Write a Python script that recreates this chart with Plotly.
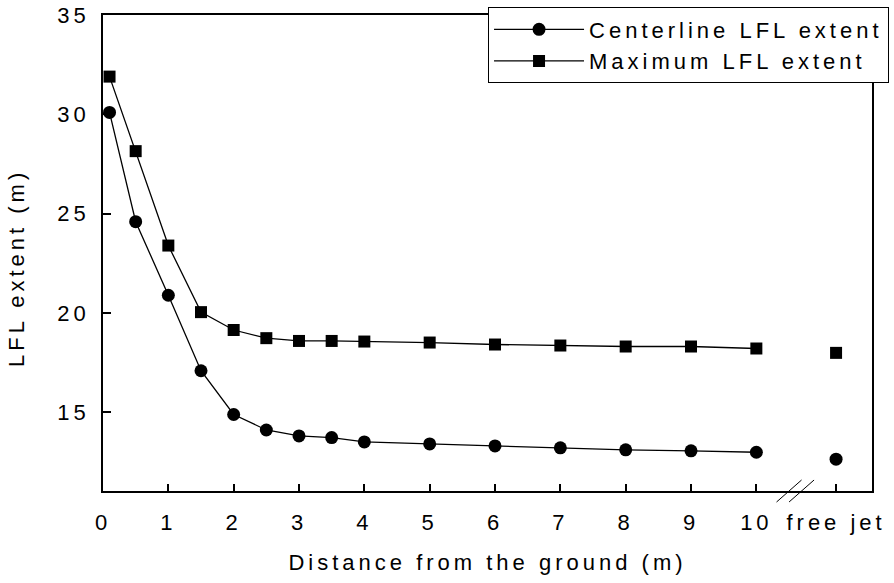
import plotly.graph_objects as go

# ---- data ----
heights = [0.1, 0.5, 1, 1.5, 2, 2.5, 3, 3.5, 4, 5, 6, 7, 8, 9, 10]
centerline = [30.1, 24.6, 20.9, 17.1, 14.9, 14.12, 13.82, 13.74, 13.52, 13.42, 13.32, 13.22, 13.12, 13.07, 13.0]
maximum = [31.9, 28.15, 23.4, 20.05, 19.15, 18.74, 18.6, 18.6, 18.57, 18.52, 18.42, 18.37, 18.32, 18.32, 18.22]
free_jet_centerline = 12.65
free_jet_maximum = 18.0
FREE_JET_X = 11.22
BREAK_X = 10.6
tick_vals = [0, 1, 2, 3, 4, 5, 6, 7, 8, 9, 10, FREE_JET_X]
tick_text = ["0", "1", "2", "3", "4", "5", "6", "7", "8", "9", "10", "free jet"]
y_ticks = [15, 20, 25, 30, 35]
x_title = "Distance from the ground (m)"
y_title = "LFL extent (m)"

FONT = "Liberation Sans"
FS = 22

fig = go.Figure()
fig.add_trace(go.Scatter(
    x=heights + [None, FREE_JET_X], y=centerline + [None, free_jet_centerline],
    mode="lines+markers", name="Centerline LFL extent",
    line=dict(color="black", width=1.3),
    marker=dict(symbol="circle", size=13, color="black"),
))
fig.add_trace(go.Scatter(
    x=heights + [None, FREE_JET_X], y=maximum + [None, free_jet_maximum],
    mode="lines+markers", name="Maximum LFL extent",
    line=dict(color="black", width=1.3),
    marker=dict(symbol="square", size=12, color="black"),
))

# axis break marks
for dx in (-12.5, 0):
    fig.add_shape(type="line", xref="x", yref="paper",
                  xsizemode="pixel", ysizemode="pixel",
                  xanchor=BREAK_X, yanchor=0,
                  x0=-6.5 + dx, x1=18.5 + dx, y0=-11, y1=11,
                  line=dict(color="black", width=1))

# y-axis title (placed as rotated annotation to match vertical offset)
fig.add_annotation(text=y_title, xref="paper", yref="paper", x=0, y=0.4685,
                   xanchor="center", yanchor="middle", xshift=-86,
                   textangle=-90, showarrow=False, font=dict(size=FS))

fig.update_layout(
    width=894, height=583,
    margin=dict(l=103, r=22, t=15, b=92, autoexpand=False),
    paper_bgcolor="white", plot_bgcolor="white",
    font=dict(family=FONT, size=FS, color="black"),
    showlegend=True,
    legend=dict(x=0.5007, xanchor="left", y=1.0158, yanchor="top",
                bgcolor="white", bordercolor="black", borderwidth=1,
                font=dict(size=FS), itemwidth=90, tracegroupgap=0),
    xaxis=dict(range=[0, 11.77], tickvals=tick_vals, ticktext=tick_text,
               showline=True, linecolor="black", linewidth=1.5, mirror=True,
               ticks="inside", ticklen=7, tickwidth=1.5, tickcolor="black",
               showgrid=False, zeroline=False, ticklabelstandoff=11,
               tickfont=dict(size=FS),
               title=dict(text=x_title, standoff=20, font=dict(size=FS))),
    yaxis=dict(range=[11.05, 35], tickvals=y_ticks,
               showline=True, linecolor="black", linewidth=1.5, mirror=True,
               ticks="inside", ticklen=8, tickwidth=1.5, tickcolor="black",
               showgrid=False, zeroline=False, ticklabelstandoff=7,
               tickfont=dict(size=FS)),
)

post = """
var gd = document.getElementById('{plot_id}');
var st = document.createElement('style');
st.textContent = 'svg text { letter-spacing: 4px; }';
document.head.appendChild(st);
return Plotly.relayout(gd, {'font.family': 'Liberation Sans, Arial, sans-serif'});
"""

fig.write_html("out.html", config={"displayModeBar": False}, post_script=post)
